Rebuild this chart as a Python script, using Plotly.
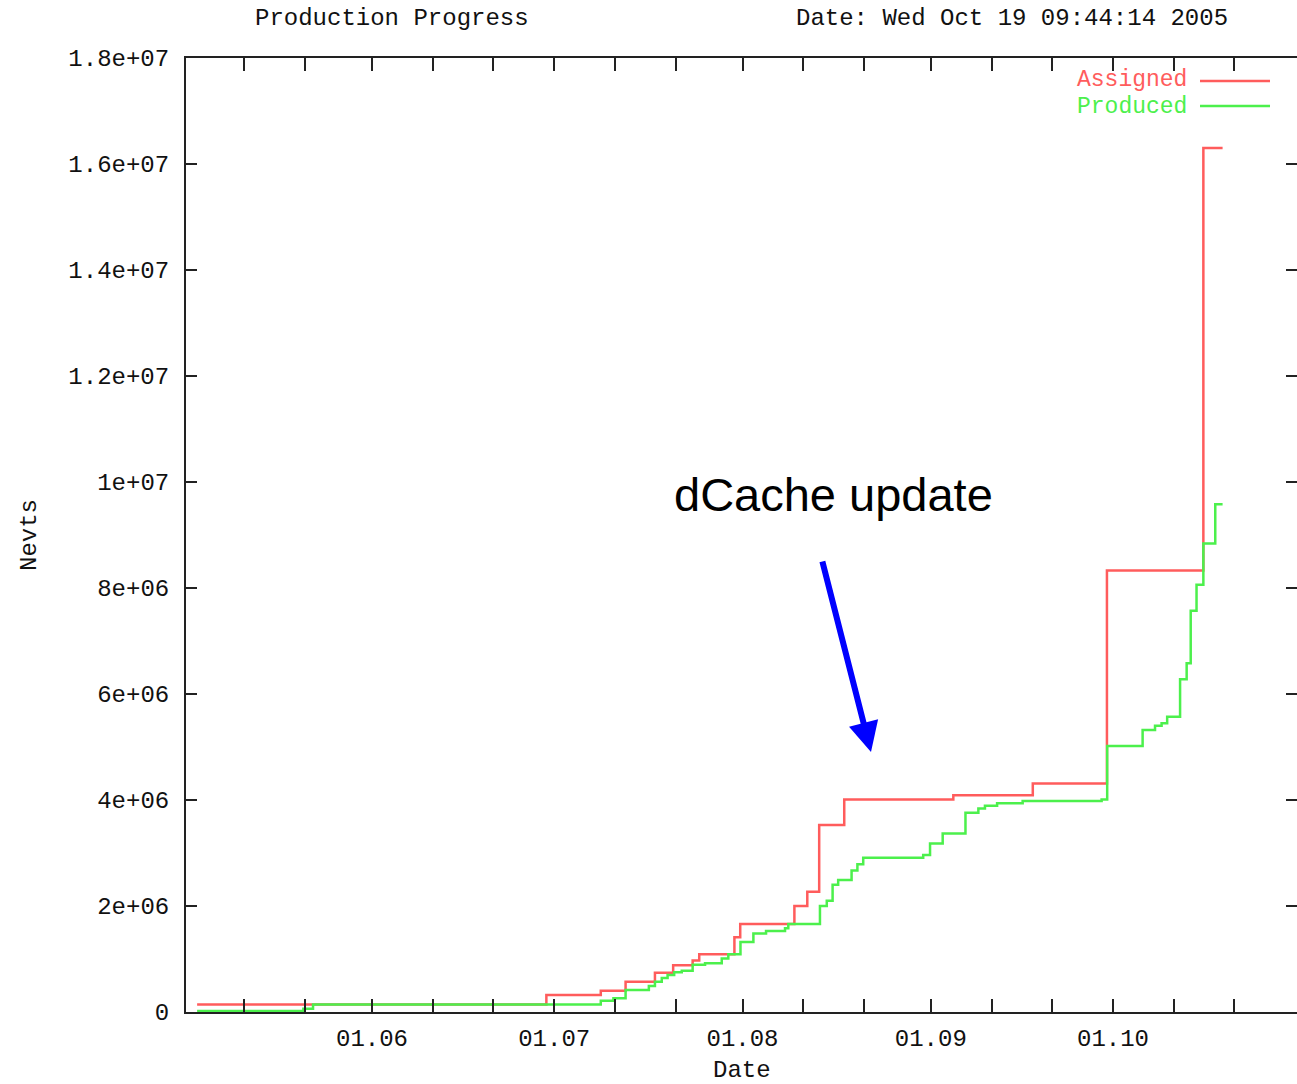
import plotly.graph_objects as go

# ---------------- data ----------------
assigned_dates = [
    "2005-05-03 05:00", "2005-06-29 17:00", "2005-07-08 16:00", "2005-07-12 18:00",
    "2005-07-17 14:00", "2005-07-20 14:00", "2005-07-23 19:00", "2005-07-24 21:00",
    "2005-07-30 16:00", "2005-07-31 15:00", "2005-08-09 13:00", "2005-08-11 16:00",
    "2005-08-13 15:00", "2005-08-17 18:00", "2005-09-04 17:00", "2005-09-17 19:00",
    "2005-09-30 00:00", "2005-10-15 21:00", "2005-10-19 01:00",
]
assigned_values = [
    0.14e6, 0.32e6, 0.40e6, 0.57e6,
    0.74e6, 0.88e6, 0.97e6, 1.09e6,
    1.41e6, 1.66e6, 2.00e6, 2.27e6,
    3.53e6, 4.01e6, 4.09e6, 4.31e6,
    8.33e6, 16.3e6, 16.3e6,
]

produced_dates = [
    "2005-05-03 05:00", "2005-05-20 17:00", "2005-05-22 07:00", "2005-07-08 16:00",
    "2005-07-10 18:00", "2005-07-12 18:00", "2005-07-16 14:00", "2005-07-17 14:00",
    "2005-07-18 17:00", "2005-07-19 16:00", "2005-07-20 18:00", "2005-07-22 00:00",
    "2005-07-23 19:00", "2005-07-25 20:00", "2005-07-28 14:00", "2005-07-29 16:00",
    "2005-07-31 16:00", "2005-08-02 19:00", "2005-08-04 21:00", "2005-08-08 00:00",
    "2005-08-08 13:00", "2005-08-13 18:00", "2005-08-14 21:00", "2005-08-15 20:00",
    "2005-08-16 18:00", "2005-08-18 23:00", "2005-08-19 22:00", "2005-08-20 21:00",
    "2005-08-30 18:00", "2005-08-31 21:00", "2005-09-02 23:00", "2005-09-06 17:00",
    "2005-09-08 20:00", "2005-09-09 22:00", "2005-09-11 22:00", "2005-09-16 03:00",
    "2005-09-29 03:00", "2005-09-30 01:00", "2005-10-05 21:00", "2005-10-07 22:00",
    "2005-10-09 00:00", "2005-10-09 22:00", "2005-10-12 01:00", "2005-10-13 03:00",
    "2005-10-13 19:00", "2005-10-14 18:00", "2005-10-15 21:00", "2005-10-17 20:00",
    "2005-10-19 01:00",
]
produced_values = [
    0.02e6, 0.06e6, 0.14e6, 0.21e6,
    0.26e6, 0.415e6, 0.49e6, 0.57e6,
    0.64e6, 0.70e6, 0.75e6, 0.78e6,
    0.89e6, 0.92e6, 1.01e6, 1.09e6,
    1.32e6, 1.48e6, 1.53e6, 1.58e6,
    1.66e6, 2.00e6, 2.10e6, 2.40e6,
    2.49e6, 2.67e6, 2.79e6, 2.91e6,
    2.96e6, 3.18e6, 3.37e6, 3.76e6,
    3.84e6, 3.89e6, 3.94e6, 3.98e6,
    4.01e6, 5.02e6, 5.32e6, 5.40e6,
    5.45e6, 5.57e6, 6.28e6, 6.58e6,
    7.57e6, 8.06e6, 8.84e6, 9.58e6,
    9.58e6,
]

x_major_ticks = ["2005-06-01", "2005-07-01", "2005-08-01", "2005-09-01", "2005-10-01"]
x_major_labels = ["01.06", "01.07", "01.08", "01.09", "01.10"]
x_minor_ticks = ["2005-05-11", "2005-05-21", "2005-06-11", "2005-06-21",
                 "2005-07-11", "2005-07-21", "2005-08-11", "2005-08-21",
                 "2005-09-11", "2005-09-21", "2005-10-11", "2005-10-21"]
y_ticks = [0, 2e6, 4e6, 6e6, 8e6, 10e6, 12e6, 14e6, 16e6, 18e6]
y_labels = ["0", "2e+06", "4e+06", "6e+06", "8e+06", "1e+07",
            "1.2e+07", "1.4e+07", "1.6e+07", "1.8e+07"]
x_range = ["2005-05-01 09:04", "2005-10-31 07:00"]
y_range = [0, 1.8e7]

# ---------------- styles ----------------
MONO = "Liberation Mono, DejaVu Sans Mono, monospace"
FS = 24
RED = "#ff5c5c"
GREEN = "#4cf04c"
AX = "#222222"
TXT = "#111111"

fig = go.Figure()
fig.add_trace(go.Scatter(x=assigned_dates, y=assigned_values, mode="lines",
                         line=dict(color=RED, width=2.5, shape="hv"),
                         name="Assigned", showlegend=False))
fig.add_trace(go.Scatter(x=produced_dates, y=produced_values, mode="lines",
                         line=dict(color=GREEN, width=2.5, shape="hv"),
                         name="Produced", showlegend=False, yaxis="y2"))

fig.update_layout(
    width=1297, height=1084,
    margin=dict(l=186, r=0, t=58, b=72),
    paper_bgcolor="white", plot_bgcolor="white",
    font=dict(family=MONO, size=FS, color=TXT),
    xaxis=dict(
        type="date", range=x_range,
        tickmode="array", tickvals=x_major_ticks, ticktext=x_major_labels,
        ticks="inside", ticklen=13, tickwidth=2, tickcolor=AX,
        showline=True, linecolor=AX, linewidth=2, mirror="allticks",
        showgrid=False, zeroline=False, ticklabelstandoff=3,
        tickfont=dict(family=MONO, size=FS, color=TXT),
        minor=dict(tickmode="array", tickvals=x_minor_ticks, ticks="inside",
                   ticklen=6, tickwidth=2, tickcolor=AX, showgrid=False),
    ),
    yaxis=dict(
        range=y_range, tickmode="array", tickvals=y_ticks, ticktext=y_labels,
        ticks="inside", ticklen=11, tickwidth=2, tickcolor=AX,
        showline=True, linecolor=AX, linewidth=2, mirror=False,
        showgrid=False, zeroline=False, ticklabelstandoff=10,
        tickfont=dict(family=MONO, size=FS, color=TXT),
    ),
    yaxis2=dict(
        range=y_range, overlaying="y", side="right", anchor="x",
        tickmode="array", tickvals=y_ticks, showticklabels=False,
        ticks="inside", ticklen=11, tickwidth=2, tickcolor=AX,
        showline=False, showgrid=False, zeroline=False,
    ),
)

W = 1297 - 186
H = 1012 - 58

def px(xp):
    return (xp - 186) / W

def py(yp):
    return (1012 - yp) / H

annotations = [
    dict(text="Production Progress", x=px(392), y=py(19), xref="paper", yref="paper",
         xanchor="center", yanchor="middle", showarrow=False,
         font=dict(family=MONO, size=FS, color=TXT)),
    dict(text="Date: Wed Oct 19 09:44:14 2005", x=px(1012), y=py(19), xref="paper", yref="paper",
         xanchor="center", yanchor="middle", showarrow=False,
         font=dict(family=MONO, size=FS, color=TXT)),
    dict(text="Nevts", x=px(29), y=0.5, xref="paper", yref="paper", textangle=-90,
         xanchor="center", yanchor="middle", showarrow=False,
         font=dict(family=MONO, size=FS, color=TXT)),
    dict(text="Date", x=px(742), y=py(1070), xref="paper", yref="paper",
         xanchor="center", yanchor="middle", showarrow=False, borderpad=0,
         font=dict(family=MONO, size=FS, color=TXT)),
    dict(text="Assigned", x=px(1188), y=py(80), xref="paper", yref="paper",
         xanchor="right", yanchor="middle", showarrow=False, borderpad=0,
         font=dict(family=MONO, size=23, color=RED)),
    dict(text="Produced", x=px(1188), y=py(107), xref="paper", yref="paper",
         xanchor="right", yanchor="middle", showarrow=False, borderpad=0,
         font=dict(family=MONO, size=23, color=GREEN)),
    dict(text="dCache update", x=px(833), y=py(494), xref="paper", yref="paper",
         xanchor="center", yanchor="middle", showarrow=False,
         font=dict(family="Liberation Sans, Arial, sans-serif", size=47, color="black")),
    dict(text="", x=px(871), y=py(752), xref="paper", yref="paper",
         showarrow=True, arrowhead=2, arrowsize=1, arrowwidth=6, arrowcolor="#0000ff",
         ax=-49, ay=-192, standoff=0),
]
fig.update_layout(annotations=annotations)

fig.add_shape(type="line", xref="paper", yref="paper", x0=px(1200), x1=px(1270),
              y0=py(81), y1=py(81), line=dict(color=RED, width=2.5))
fig.add_shape(type="line", xref="paper", yref="paper", x0=px(1200), x1=px(1270),
              y0=py(106), y1=py(106), line=dict(color=GREEN, width=2.5))

fig.write_html("out.html")
